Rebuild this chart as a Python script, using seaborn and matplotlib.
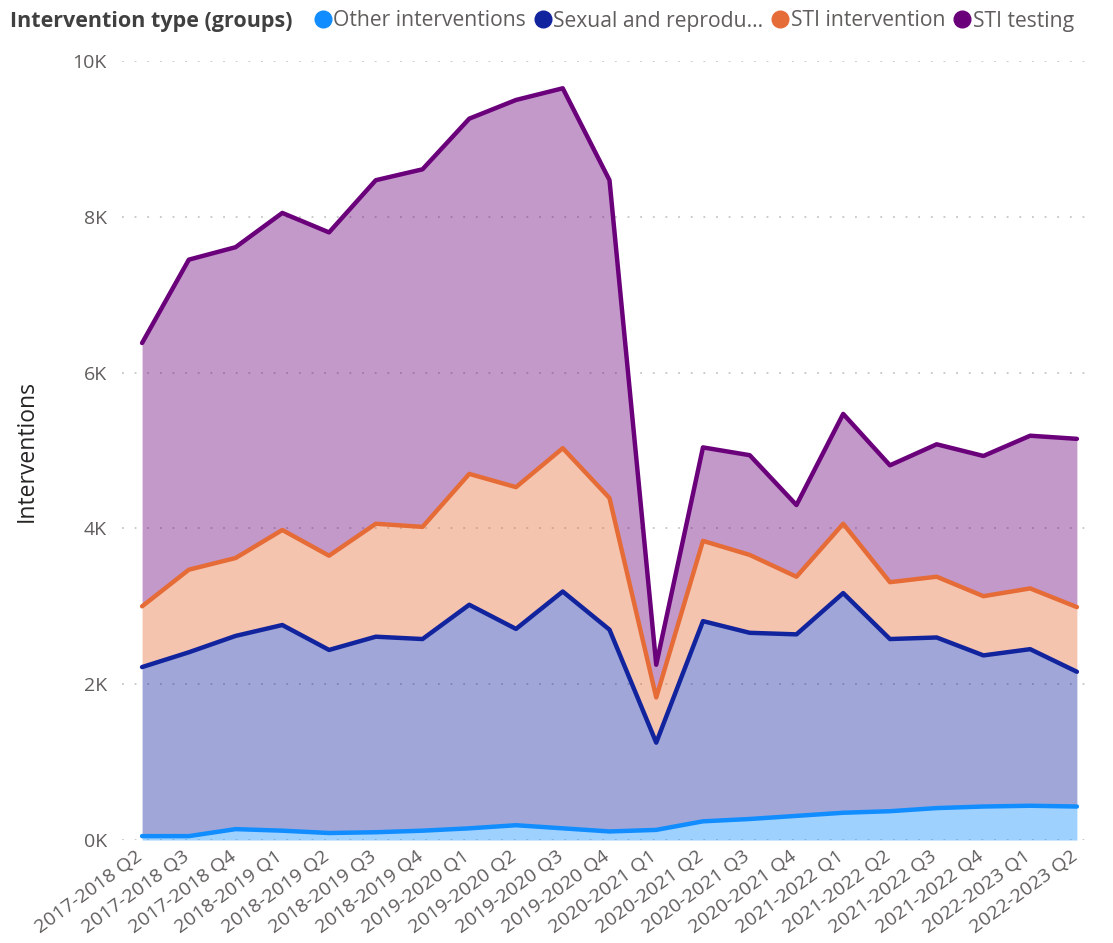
import numpy as np
import pandas as pd
import matplotlib.pyplot as plt
import matplotlib.transforms as mtransforms
from matplotlib.lines import Line2D
import seaborn as sns

# ---- données ----
quarters = ["2017-2018 Q2", "2017-2018 Q3", "2017-2018 Q4",
            "2018-2019 Q1", "2018-2019 Q2", "2018-2019 Q3", "2018-2019 Q4",
            "2019-2020 Q1", "2019-2020 Q2", "2019-2020 Q3", "2019-2020 Q4",
            "2020-2021 Q1", "2020-2021 Q2", "2020-2021 Q3", "2020-2021 Q4",
            "2021-2022 Q1", "2021-2022 Q2", "2021-2022 Q3", "2021-2022 Q4",
            "2022-2023 Q1", "2022-2023 Q2"]

other = [50, 50, 140, 120, 90, 100, 120, 150, 190, 150, 110,
         130, 240, 270, 310, 350, 370, 410, 430, 440, 430]
sexual_repro = [2170, 2360, 2480, 2640, 2350, 2510, 2460, 2870, 2520, 3040, 2590,
                1120, 2570, 2390, 2330, 2820, 2210, 2190, 1940, 2010, 1730]
sti_intervention = [780, 1060, 1000, 1220, 1210, 1450, 1440, 1680, 1820, 1840, 1690,
                    580, 1030, 1000, 740, 890, 730, 780, 760, 780, 830]
sti_testing = [3380, 3980, 3990, 4070, 4150, 4410, 4590, 4560, 4970, 4620, 4080,
               420, 1200, 1280, 920, 1410, 1500, 1700, 1800, 1960, 2160]

groups = ["Other interventions", "Sexual and reprodu...", "STI intervention", "STI testing"]
line_colors = ["#118DFF", "#12239E", "#E66C37", "#6B007B"]

# ---- mise en forme ----
sns.set_theme(style="white")
plt.rcParams['font.family'] = ['Open Sans', 'DejaVu Sans']

df = pd.DataFrame({
    "quarter": quarters,
    groups[0]: other,
    groups[1]: sexual_repro,
    groups[2]: sti_intervention,
    groups[3]: sti_testing,
})
df["x"] = np.arange(len(quarters))

# cumul pour l'empilement
cum = df[groups].cumsum(axis=1)
cum["x"] = df["x"]
long = cum.melt(id_vars="x", var_name="group", value_name="value")

fig = plt.figure(figsize=(11.13, 9.43), dpi=100)
ax = fig.add_axes([0.1096, 0.1092, 0.8714, 0.8261])

lower = np.zeros(len(quarters))
for g, c in zip(groups, line_colors):
    upper = cum[g].values
    ax.fill_between(df["x"], lower, upper, color=c, alpha=0.4, linewidth=0, zorder=1)
    lower = upper

sns.lineplot(data=long, x="x", y="value", hue="group", palette=line_colors,
             hue_order=groups, linewidth=3.2, ax=ax, legend=False, zorder=3,
             solid_capstyle="round", solid_joinstyle="round")

ax.set_xlim(-0.43, 20.32)
ax.set_ylim(0, 10000)
ax.set_yticks([0, 2000, 4000, 6000, 8000, 10000])
ax.set_yticklabels(["0K", "2K", "4K", "6K", "8K", "10K"])
ax.set_xticks(df["x"])
ax.set_xticklabels(quarters, rotation=36, ha="right", rotation_mode="anchor")
ax.tick_params(axis="both", length=0, labelsize=14, labelcolor="#605E5C")
ax.tick_params(axis="x", pad=5)
ax.tick_params(axis="y", pad=11)
offset = mtransforms.ScaledTranslation(-7 / 100, 0, fig.dpi_scale_trans)
for lab in ax.get_xticklabels():
    lab.set_transform(lab.get_transform() + offset)

ax.yaxis.grid(True, linestyle=(0, (1, 6)), color="#C8C6C4", linewidth=1.3, zorder=0)
ax.xaxis.grid(False)
ax.set_axisbelow(True)
for s in ax.spines.values():
    s.set_visible(False)
ax.set_xlabel("")
ax.set_ylabel("Interventions", fontsize=16.5, color="#252423", labelpad=24)

# légende en haut
fig.text(10 / 1113, 1 - 22 / 943, "Intervention type (groups)", fontsize=15.5,
         fontweight="bold", color="#404040", va="center", ha="left")
handles = [Line2D([0], [0], marker="o", linestyle="", markersize=12,
                  markerfacecolor=c, markeredgecolor=c) for c in line_colors]
fig.legend(handles, groups, loc="center left", bbox_to_anchor=(312 / 1113, 1 - 21 / 943),
           ncol=4, frameon=False, fontsize=15.2, labelcolor="#605E5C",
           handletextpad=0.0, columnspacing=0.3, handlelength=1.0, borderpad=0,
           borderaxespad=0)

fig.savefig("out.png", dpi=100)
